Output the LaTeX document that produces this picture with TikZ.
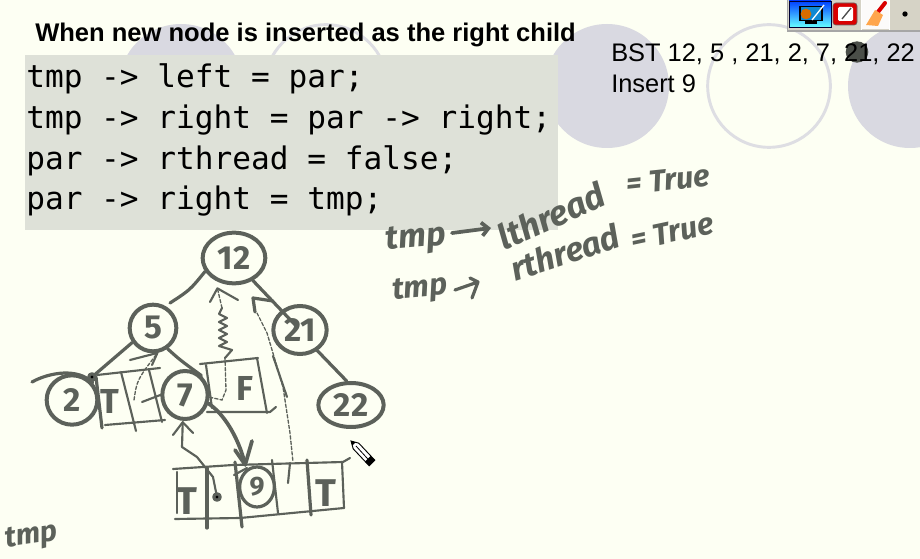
\documentclass[tikz,border=0pt]{standalone}
\usepackage{fontspec}
\setmainfont{Liberation Sans}
\newfontfamily\codefont{DejaVu Sans Mono}
\newfontfamily\handfont{Fira Sans}
\usetikzlibrary{shapes.geometric,arrows.meta}
\definecolor{paper}{HTML}{FDFFF3}
\definecolor{disc}{HTML}{D9D9E1}
\definecolor{ringc}{HTML}{DEDEE3}
\definecolor{codebg}{HTML}{DEE1D8}
\definecolor{ink}{HTML}{5C615A}
\definecolor{barbg}{HTML}{D6D3C6}
\newcommand{\fs}[1]{\fontsize{#1}{#1}\selectfont}
\tikzset{
  x=0.75pt,y=-0.75pt,
  ink/.style={draw=ink,line width=2.4pt,line cap=round,line join=round},
  inkthin/.style={draw=ink,line width=1.6pt,line cap=round,line join=round},
  inkdash/.style={draw=ink,line width=1pt,dash pattern=on 2.5pt off 1.5pt,line cap=round},
  treenode/.style={ellipse,draw=ink,line width=3pt,inner sep=0pt,text=ink,font=\handfont\bfseries\fs{25}},
  hand/.style={inner sep=0pt,text=ink},
  codeline/.style={anchor=base west,inner sep=0pt,font=\codefont\fs{23.35},text=black},
}
\begin{document}
\begin{tikzpicture}
\useasboundingbox (0,0) rectangle (920,559);
\fill[paper] (0,0) rectangle (920,559);
% background circles
\fill[disc] (181,86) circle[radius=46.5pt];
\draw[ringc,line width=2.2pt] (326,86) circle[radius=46pt];
\fill[disc] (607,86) circle[radius=46.5pt];
\draw[ringc,line width=2.2pt] (769,86) circle[radius=46pt];
\fill[disc] (910,86) circle[radius=46.5pt];
% title and code
\node[anchor=base west,inner sep=0pt,font=\bfseries\fs{19.15}] (title) at (35,42) {When new node is inserted as the right child};
\node[fill=codebg,anchor=north west,inner sep=0pt,minimum width=399.75pt,minimum height=131.25pt] (codebox) at (25,55) {};
\node[codeline] (c1) at (26,88) {tmp -> left = par;};
\node[codeline] (c2) at (26,129) {tmp -> right = par -> right;};
\node[codeline] (c3) at (26,170) {par -> rthread = false;};
\node[codeline] (c4) at (26,210) {par -> right = tmp;};
% top-right text
\fill[ink!80!black] (857,52) ellipse[x radius=8.5pt,y radius=8pt];
\node[anchor=base west,inner sep=0pt,font=\fs{19.05}] (bst) at (611,62) {BST 12, 5 , 21, 2, 7, 21, 22};
\node[anchor=base west,inner sep=0pt,font=\fs{19.05}] (ins) at (611,93) {Insert 9};
% toolbar
\fill[barbg] (787,0) rectangle (920,30);
\draw[gray!70,line width=1pt] (787,31) -- (920,31);
\draw[gray!70,line width=0.75pt] (787,0) -- (787,31);
\fill[white!92!barbg] (861,0) rectangle (889,29);
\draw[white,line width=0.75pt] (861,0) -- (861,30) (889,0) -- (889,30);
\shade[top color=blue!75!cyan,bottom color=cyan!60!white,draw=black!80!blue] (789,1) rectangle (831,27);
\fill[black] (799,6) rectangle (823,21);
\fill[black] (805,21) rectangle (817,24);
\fill[cyan!70!blue] (801,7) rectangle (821,20);
\fill[orange!85!black] (806,14) circle[radius=4pt];
\draw[white,line width=1pt] (812,20) -- (824,5);
\fill[red!85!black,draw=black!60,rounded corners=2pt] (833,3) rectangle (857,25);
\fill[white,rounded corners=1pt] (838,7) rectangle (853,21);
\draw[black!70,line width=1pt] (842,19) -- (851,8);
\draw[red!85!black,line width=3pt,line cap=round] (878,12) -- (885,3);
\fill[orange!70] (866,25) -- (875,10) -- (883,15) -- (878,26) -- cycle;
\fill[black] (905,14) circle[radius=2pt];
% tree nodes
\node[treenode,minimum width=47pt,minimum height=38pt] (n12) at (234,258) {12};
\node[treenode,minimum width=35pt,minimum height=35pt] (n5) at (153,328) {5};
\node[treenode,minimum width=40pt,minimum height=36pt] (n21) at (300,330) {21};
\node[treenode,minimum width=38pt,minimum height=37pt] (n2) at (72,400) {2};
\node[treenode,minimum width=34pt,minimum height=36pt] (n7) at (185,395) {7};
\node[treenode,minimum width=49pt,minimum height=33pt] (n22) at (351,405) {22};
\node[treenode,line width=2.4pt,minimum width=26pt,minimum height=30pt,font=\handfont\bfseries\fs{20}] (n9) at (257,487) {9};
% tree edges
\draw[ink] (n12.205) .. controls (190,290) .. (170,303);
\draw[ink,shorten >=3pt] (n12.-50) -- (n21.center);
\draw[ink] (n21.-50) -- (n22.100);
\draw[ink] (n5.215) -- (92,377);
\fill[ink] (92,377) circle[radius=2.4pt];
\draw[ink] (n5.-55) .. controls (180,360) .. (n7.50);
\draw[ink] (32,382) .. controls (50,372) and (78,368) .. (n2.40);
% parent cell record
\draw[inkthin] (97,375) -- (160,368) (200,364) -- (258,358);
\draw[inkthin] (105,425) -- (165,420) (207,412) -- (270,412) -- (276,407);
\draw[ink] (96,377) -- (102,428);
\draw[inkthin] (121,372) -- (136,431);
\draw[inkthin] (149,370) -- (162,422);
\draw[inkthin] (206,365) -- (212,408);
\draw[inkthin] (257,358) -- (267,413);
\node[hand,font=\handfont\bfseries\fs{26}] (pT) at (110,401) {T};
\node[hand,font=\handfont\bfseries\fs{26}] (pF) at (245,388) {F};
\draw[inkthin] (142,402) -- (n7.180);
% threads of the parent record
\draw[inkdash] (134,400) .. controls (137,380) .. (n5.-80);
\draw[inkthin] (130,360) -- (n5.-80) -- (152,365);
\coordinate (tip12) at ([yshift=-5pt]n12.-125);
\draw[inkdash] (n7.-5) -- (222,400) -- (226,390) -- (225,358);
\draw[inkthin] (225,358) -- (232,350) -- (219,346) -- (227,342) -- (219,338) -- (227,334) -- (219,330) -- (227,326) -- (219,322) -- (227,318) -- (219,314) -- (222,308);
\draw[inkdash] (222,308) -- (tip12);
\draw[inkthin] (210,302) -- (tip12) -- (238,300);
% hook thread to root
\draw[ink] (255,312) -- (253,298) -- (273,301);
\draw[inkdash] (257,313) -- (267,333) -- (283,387) -- (290,433) -- (293,462);
\draw[inkthin] (273,356) -- (287,397);
\draw[inkthin] (288,483) -- (290,463);
% arrow from 7 to 9
\coordinate (tip9) at ([yshift=4pt]n9.125);
\draw[ink,line width=2.8pt] (n7.-20) .. controls (222,412) and (238,435) .. (tip9);
\draw[ink,line width=2.8pt] (235,450) -- (tip9) -- (252,441);
% new node record
\draw[inkthin] (173,469) -- (233,465) -- (343,462) -- (350,458);
\draw[inkthin] (175,519) -- (240,518) -- (344,508);
\draw[inkthin] (177,472) -- (177,513);
\draw[ink] (207,468) -- (207,528);
\draw[ink] (235,462) -- (242,527);
\draw[inkthin] (272,460) -- (278,513);
\draw[ink] (307,460) -- (311,515);
\draw[inkthin] (342,462) -- (344,508);
\draw[inkthin] (234,475) -- (247,468);
\node[hand,font=\handfont\bfseries\fs{29}] (tT) at (187,501) {T};
\node[hand,font=\handfont\bfseries\fs{29}] (tT2) at (326,493) {T};
% left thread of the new node
\coordinate (tip7) at ([yshift=-1pt]n7.-95);
\draw[inkthin] (217,497) -- (213,477) -- (197,457) -- (182,447) -- (tip7);
\fill[ink] (217,497) circle[radius=2.4pt];
\draw[inkthin] (173,435) -- (tip7) -- (193,433);
% handwriting
\node[hand,font=\handfont\bfseries\itshape\fs{25},rotate=5] (w1) at (416,240) {tmp};
\node[hand,font=\handfont\bfseries\itshape\fs{23},rotate=5] (w2) at (420,290) {tmp};
\coordinate (a1) at (452,233);
\draw[ink,-{Straight Barb[length=5pt,width=10pt]},line width=2.8pt] (a1) -- (491,228);
\node[hand,font=\handfont\bfseries\itshape\fs{26},rotate=24] (w3) at (551,216) {lthread};
\node[hand,font=\handfont\bfseries\itshape\fs{25},rotate=18] (w4) at (565,252) {rthread};
\node[hand,font=\handfont\bfseries\itshape\fs{23},rotate=6] (w5) at (668,180) {= True};
\node[hand,font=\handfont\bfseries\itshape\fs{23},rotate=12] (w6) at (672,232) {= True};
\coordinate (a2) at (455,290);
\draw[ink] (a2) -- (478,282) (470,278) -- (478,282) -- (472,298);
\node[hand,font=\handfont\bfseries\itshape\fs{22},rotate=8] (w7) at (32,537) {tmp};
% pencil cursor
\draw[black,fill=white,line width=0.7pt] (351,441) -- (358.8,443.2) -- (374.8,460.2) -- (369.2,465.8) -- (353.2,448.8) -- cycle;
\draw[black,line width=0.6pt] (356,446) -- (371.5,463);
\fill[black] (351,441) -- (355.5,442.3) -- (352.3,445.5) -- cycle;
\fill[black] (370.5,456) -- (374.8,460.2) -- (369.2,465.8) -- (365,461.5) -- cycle;
\end{tikzpicture}
\end{document}
